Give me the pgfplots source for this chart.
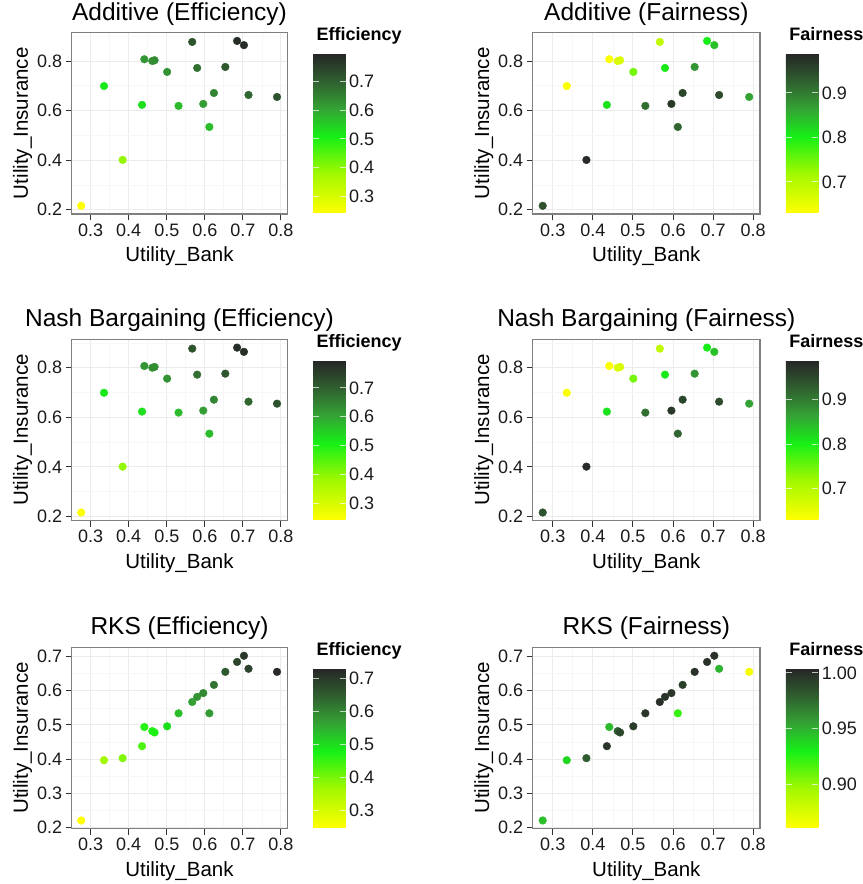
\documentclass[border=0pt]{standalone}
\usepackage{fontspec}
\setmainfont{Liberation Sans}
\usepackage{pgfplots}
\usepackage{pgfplotstable}
\pgfplotsset{compat=1.18}
\definecolor{gridmaj}{HTML}{EBEBEB}
\definecolor{gridmin}{HTML}{F7F7F7}
\definecolor{framec}{HTML}{7F7F7F}
\definecolor{tickc}{HTML}{333333}
\definecolor{txt}{HTML}{1A1A1A}
\newcommand\tickfont{\fontsize{18bp}{21bp}\selectfont}
\newcommand\labfont{\fontsize{20.5bp}{24bp}\selectfont}
\newcommand\titfont{\fontsize{24.5bp}{29bp}\selectfont}
\newcommand\cbfont{\fontsize{18bp}{21bp}\selectfont}
\newcommand\cbtitfont{\fontsize{18bp}{21bp}\selectfont\bfseries}

\pgfplotstableread{
x y e f
0.275 0.216 0.2455 0.941
0.335 0.699 0.517 0.636
0.384 0.401 0.3925 0.983
0.435 0.623 0.529 0.812
0.441 0.807 0.624 0.634
0.462 0.800 0.631 0.662
0.468 0.803 0.6355 0.665
0.501 0.756 0.6285 0.745
0.531 0.619 0.575 0.912
0.567 0.877 0.722 0.690
0.580 0.772 0.676 0.808
0.596 0.627 0.6115 0.969
0.612 0.534 0.573 0.922
0.624 0.671 0.6475 0.953
0.654 0.776 0.715 0.878
0.685 0.881 0.783 0.804
0.703 0.864 0.7835 0.839
0.715 0.663 0.689 0.948
0.790 0.655 0.7225 0.865
}\additive

\pgfplotstableread{
x y e f
0.275 0.216 0.2455 0.941
0.335 0.699 0.517 0.636
0.384 0.401 0.3925 0.983
0.435 0.623 0.529 0.812
0.441 0.807 0.624 0.634
0.462 0.800 0.631 0.662
0.468 0.803 0.6355 0.665
0.501 0.756 0.6285 0.745
0.531 0.619 0.575 0.912
0.567 0.877 0.722 0.690
0.580 0.772 0.676 0.808
0.596 0.627 0.6115 0.969
0.612 0.534 0.573 0.922
0.624 0.671 0.6475 0.953
0.654 0.776 0.715 0.878
0.685 0.881 0.783 0.804
0.703 0.864 0.7835 0.839
0.715 0.663 0.689 0.948
0.790 0.655 0.7225 0.865
}\nash

\pgfplotstableread{
x y e f
0.275 0.221 0.248 0.946
0.335 0.397 0.366 0.938
0.384 0.403 0.3935 0.981
0.435 0.438 0.4365 0.997
0.441 0.494 0.4675 0.947
0.462 0.482 0.472 0.980
0.468 0.478 0.473 0.990
0.501 0.496 0.4985 0.995
0.531 0.534 0.5325 0.997
0.567 0.567 0.567 1.000
0.580 0.582 0.581 0.998
0.596 0.593 0.5945 0.997
0.612 0.534 0.573 0.922
0.624 0.617 0.6205 0.993
0.654 0.655 0.6545 0.999
0.685 0.684 0.6845 0.999
0.703 0.702 0.7025 0.999
0.715 0.664 0.6895 0.949
0.790 0.655 0.7225 0.865
}\rks

\pgfplotsset{
  colormap={gg}{rgb255(0cm)=(255,255,0); rgb255(2.5cm)=(160,248,0); rgb255(4.8cm)=(22,240,22); rgb255(6.5cm)=(52,165,52); rgb255(8.2cm)=(48,98,48); rgb255(10cm)=(38,38,38)},
  panel/.style={
    scale only axis, height=181.5bp, anchor=south west,
    xmin=0.25, xmax=0.817,
    xtick={0.3,0.4,0.5,0.6,0.7,0.8},
    xticklabels={0.3,0.4,0.5,0.6,0.7,0.8},
    minor xtick={0.35,0.45,0.55,0.65,0.75},
    grid=both,
    major grid style={color=gridmaj, line width=1bp},
    minor grid style={color=gridmin, line width=0.6bp},
    axis line style={color=framec, line width=1.1bp},
    tick align=outside, xtick pos=bottom, ytick pos=left,
    major tick length=6bp, minor tick length=0pt,
    tick style={color=tickc, line width=1bp},
    ticklabel style={font=\tickfont, text=txt},
    xlabel={Utility\_Bank}, ylabel={Utility\_Insurance},
    label style={font=\labfont, text=black},
    xlabel style={at={(axis description cs:0.5,0)}, anchor=base, yshift=-48bp},
    ylabel style={at={(axis description cs:0,0.5)}, anchor=base, yshift=43.7bp},
    title style={at={(axis description cs:0.5,1)}, anchor=base, yshift=6.5bp, font=\titfont, text=black},
    colormap name=gg,
    colorbar,
    colorbar/width=32.4bp,
    colorbar style={
      at={(parent axis.south east)}, anchor=south west, xshift=17.4bp, yshift=1bp,
      scale only axis, width=32.4bp, height=159.3bp,
      axis on top,
      axis line style={draw=none},
      ytick pos=both, yticklabel pos=right,
      tick align=inside, major tick length=6bp,
      ytick style={color=white, line width=1bp, opacity=0.7},
      yticklabel style={font=\cbfont, text=txt},
      title style={at={(0,1)}, anchor=base west, yshift=7.3bp, font=\cbtitfont, text=black},
    },
  },
  addy/.style={ymin=0.183, ymax=0.915, ytick={0.2,0.4,0.6,0.8}, yticklabels={0.2,0.4,0.6,0.8}, minor ytick={0.3,0.5,0.7,0.9}},
  rksy/.style={ymin=0.197, ymax=0.727, ytick={0.2,0.3,0.4,0.5,0.6,0.7}, yticklabels={0.2,0.3,0.4,0.5,0.6,0.7}, minor ytick={0.25,0.35,0.45,0.55,0.65}},
  effbar/.style={point meta min=0.242, point meta max=0.796, colorbar style={title={Efficiency}, ytick={0.3,0.4,0.5,0.6,0.7}, yticklabels={0.3,0.4,0.5,0.6,0.7}}},
  fairbar/.style={point meta min=0.630, point meta max=0.988, colorbar style={title={Fairness}, ytick={0.7,0.8,0.9}, yticklabels={0.7,0.8,0.9}}},
  rkseffbar/.style={point meta min=0.248, point meta max=0.729, colorbar style={title={Efficiency}, ytick={0.3,0.4,0.5,0.6,0.7}, yticklabels={0.3,0.4,0.5,0.6,0.7}}},
  rksfairbar/.style={point meta min=0.861, point meta max=1.004, colorbar style={title={Fairness}, ytick={0.9,0.95,1.0}, yticklabels={0.90,0.95,1.00}}},
  pts/.style={scatter, only marks, mark=*, mark size=3.85bp, scatter src=explicit, scatter/use mapped color={draw=mapped color, fill=mapped color}},
}

\begin{document}
\begin{tikzpicture}
\useasboundingbox (0,0) rectangle (863bp,884bp);
% Row 1
\begin{axis}[panel, addy, effbar, width=215.6bp, at={(71.7bp,670bp)}, title={Additive (Efficiency)}]
\addplot[pts] table[x=x, y=y, meta=e] {\additive};
\end{axis}
\begin{axis}[panel, addy, fairbar, width=227.3bp, at={(532.7bp,670bp)}, title={Additive (Fairness)}]
\addplot[pts] table[x=x, y=y, meta=f] {\additive};
\end{axis}
% Row 2
\begin{axis}[panel, addy, effbar, width=215.6bp, at={(71.7bp,363.3bp)}, title={Nash Bargaining (Efficiency)}]
\addplot[pts] table[x=x, y=y, meta=e] {\nash};
\end{axis}
\begin{axis}[panel, addy, fairbar, width=227.3bp, at={(532.7bp,363.3bp)}, title={Nash Bargaining (Fairness)}]
\addplot[pts] table[x=x, y=y, meta=f] {\nash};
\end{axis}
% Row 3
\begin{axis}[panel, rksy, rkseffbar, width=215.6bp, at={(71.7bp,55.3bp)}, title={RKS (Efficiency)}]
\addplot[pts] table[x=x, y=y, meta=e] {\rks};
\end{axis}
\begin{axis}[panel, rksy, rksfairbar, width=227.3bp, at={(532.7bp,55.3bp)}, title={RKS (Fairness)}]
\addplot[pts] table[x=x, y=y, meta=f] {\rks};
\end{axis}
\end{tikzpicture}
\end{document}
